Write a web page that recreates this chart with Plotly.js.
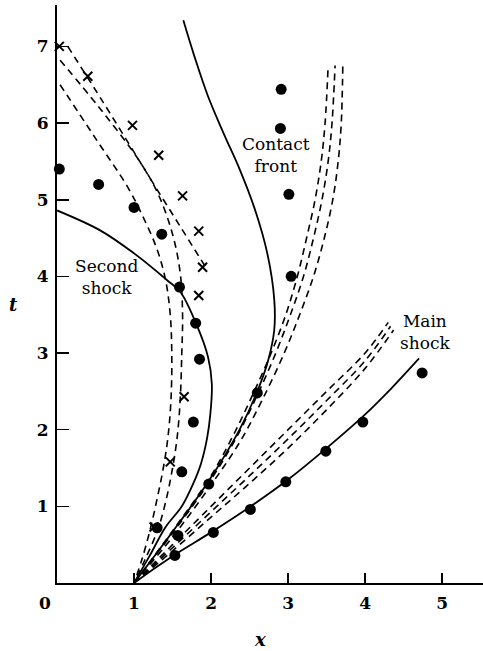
<!DOCTYPE html>
<html>
<head>
<meta charset="utf-8">
<script src="https://cdn.plot.ly/plotly-3.0.1.min.js"></script>
<style>html,body{margin:0;padding:0;background:#fff;}#chart{width:483px;height:651px;}</style>
</head>
<body>
<div id="chart"></div>
<script>
// ---- data ----
// Main shock: computed (solid), dashed variants, measured dots
const mainSolidX = [1, 1.25, 1.53, 2.03, 2.5, 3.0, 3.5, 4.0, 4.35, 4.7];
const mainSolidT = [0, 0.18, 0.37, 0.68, 0.99, 1.35, 1.76, 2.2, 2.55, 2.93];
const mainDashAX = [1, 1.5, 2, 2.5, 3, 3.5, 4, 4.3];
const mainDashAT = [0, 0.5, 1.0, 1.5, 2.0, 2.5, 3.0, 3.4];
const mainDashBX = [1, 1.5, 2, 2.5, 3, 3.5, 4, 4.33];
const mainDashBT = [0, 0.46, 0.93, 1.4, 1.88, 2.38, 2.9, 3.35];
const mainDashCX = [1, 1.5, 2, 2.5, 3, 3.5, 4, 4.37];
const mainDashCT = [0, 0.42, 0.86, 1.3, 1.76, 2.26, 2.8, 3.3];
const mainDotsX = [1.53, 2.03, 2.51, 2.97, 3.49, 3.97, 4.74];
const mainDotsT = [0.36, 0.66, 0.96, 1.32, 1.72, 2.10, 2.74];

// Contact front
const contactSolidX = [1, 1.45, 1.95, 2.37, 2.6, 2.74, 2.82, 2.82, 2.73, 2.56, 2.37, 2.17, 1.96, 1.79, 1.64];
const contactSolidT = [0, 0.6, 1.3, 2.0, 2.5, 2.9, 3.3, 3.7, 4.3, 4.9, 5.4, 5.85, 6.35, 6.85, 7.34];
const contactDash1X = [1, 1.5, 2, 2.3, 2.56, 2.78, 2.97, 3.12, 3.24, 3.35, 3.43, 3.48, 3.52];
const contactDash1T = [0, 0.68, 1.4, 1.95, 2.5, 3.0, 3.5, 4.0, 4.5, 5.0, 5.5, 6.0, 6.75];
const contactDash2X = [1, 1.5, 2, 2.33, 2.6, 2.84, 3.03, 3.2, 3.33, 3.44, 3.52, 3.57, 3.61];
const contactDash2T = [0, 0.65, 1.35, 1.9, 2.45, 3.0, 3.5, 4.0, 4.5, 5.0, 5.5, 6.0, 6.75];
const contactDash3X = [1, 1.5, 2, 2.38, 2.67, 2.95, 3.15, 3.33, 3.47, 3.58, 3.65, 3.69, 3.71];
const contactDash3T = [0, 0.6, 1.28, 1.85, 2.4, 3.0, 3.5, 4.0, 4.5, 5.0, 5.5, 6.0, 6.75];
const contactDotsX = [1.57, 1.97, 2.6, 3.04, 3.01, 2.9, 2.91];
const contactDotsT = [0.62, 1.29, 2.48, 4.0, 5.07, 5.93, 6.44];

// Second shock
const secondSolidX = [0, 0.56, 1.0, 1.43, 1.6, 1.82, 1.96, 2.01, 1.99, 1.95, 1.87, 1.77, 1.62, 1.41, 1.2, 1];
const secondSolidT = [4.86, 4.6, 4.3, 3.95, 3.8, 3.35, 2.95, 2.6, 2.2, 1.9, 1.56, 1.3, 1.0, 0.73, 0.35, 0];
const secondDash1X = [0.14, 0.6, 1.0, 1.27, 1.6, 1.93];
const secondDash1T = [7.0, 6.27, 5.62, 5.18, 4.65, 4.12];
const secondDash2X = [0.04, 0.55, 1.06, 1.31, 1.5, 1.6, 1.63, 1.62, 1.6, 1.56, 1.5, 1.42, 1.31, 1.14, 1];
const secondDash2T = [6.82, 6.2, 5.52, 5.08, 4.55, 4.04, 3.5, 3.0, 2.4, 1.9, 1.5, 1.1, 0.7, 0.3, 0];
const secondDash3X = [0.04, 0.5, 0.92, 1.12, 1.3, 1.41, 1.47, 1.49, 1.48, 1.44, 1.38, 1.3, 1.21, 1.1, 1];
const secondDash3T = [6.5, 5.8, 5.16, 4.77, 4.35, 3.95, 3.5, 3.0, 2.4, 1.9, 1.5, 1.1, 0.7, 0.3, 0];
const secondDotsX = [0.03, 0.54, 1.0, 1.36, 1.59, 1.8, 1.85, 1.77, 1.62, 1.3];
const secondDotsT = [5.4, 5.2, 4.9, 4.55, 3.86, 3.39, 2.92, 2.1, 1.45, 0.72];
const crossX = [0.03, 0.40, 0.98, 1.32, 1.63, 1.84, 1.89, 1.84, 1.65, 1.47, 1.26];
const crossT = [7.0, 6.61, 5.97, 5.58, 5.05, 4.59, 4.12, 3.75, 2.43, 1.58, 0.73];

const xTicks = [1, 2, 3, 4, 5];
const tTicks = [1, 2, 3, 4, 5, 6, 7];

// ---- drawing ----
const ink = '#000';
const solid = {color: ink, width: 1.8, shape: 'spline', smoothing: 1};
const dashed = {color: ink, width: 1.6, dash: '7px,5px', shape: 'spline', smoothing: 1};

function line(x, y, style) {
  return {x: x, y: y, type: 'scatter', mode: 'lines', line: style, hoverinfo: 'skip', showlegend: false};
}
function dots(x, y) {
  return {x: x, y: y, type: 'scatter', mode: 'markers', marker: {color: ink, size: 11, symbol: 'circle'}, showlegend: false, cliponaxis: false};
}

const traces = [
  line(mainSolidX, mainSolidT, solid),
  line(mainDashAX, mainDashAT, dashed),
  line(mainDashBX, mainDashBT, dashed),
  line(mainDashCX, mainDashCT, dashed),
  line(contactSolidX, contactSolidT, solid),
  line(contactDash1X, contactDash1T, dashed),
  line(contactDash2X, contactDash2T, dashed),
  line(contactDash3X, contactDash3T, dashed),
  line(secondSolidX, secondSolidT, solid),
  line(secondDash1X, secondDash1T, dashed),
  line(secondDash2X, secondDash2T, dashed),
  line(secondDash3X, secondDash3T, dashed),
  dots(mainDotsX, mainDotsT),
  dots(contactDotsX, contactDotsT),
  dots(secondDotsX, secondDotsT),
  {x: crossX, y: crossT, type: 'scatter', mode: 'markers', cliponaxis: false,
   marker: {symbol: 'x-thin-open', size: 9, color: ink, line: {color: ink, width: 2}}, showlegend: false}
];

const serif = 'DejaVu Serif, Liberation Serif, serif';
const labelFont = {family: serif, size: 17, color: ink};
const tickFont = {family: serif, size: 17, color: ink, weight: 'bold'};

const layout = {
  width: 483, height: 651,
  margin: {l: 57, r: 0, t: 5, b: 68},
  paper_bgcolor: '#fff', plot_bgcolor: '#fff',
  showlegend: false,
  xaxis: {
    range: [0, 5.53], showgrid: false, zeroline: false,
    showline: true, linecolor: ink, linewidth: 2,
    ticks: 'inside', ticklen: 10, tickwidth: 1.6, tickcolor: ink,
    tickvals: xTicks, ticktext: xTicks.map(String),
    tickfont: tickFont, ticklabelstandoff: 4
  },
  yaxis: {
    range: [0, 7.54], showgrid: false, zeroline: false,
    showline: true, linecolor: ink, linewidth: 2,
    ticks: 'inside', ticklen: 12, tickwidth: 1.6, tickcolor: ink,
    tickvals: tTicks, ticktext: tTicks.map(String),
    tickfont: tickFont, ticklabelstandoff: 3
  },
  annotations: [
    {text: 'Second<br>shock', x: 0.64, y: 3.99, xref: 'x', yref: 'y', showarrow: false, font: labelFont},
    {text: 'Contact<br>front', x: 2.84, y: 5.58, xref: 'x', yref: 'y', showarrow: false, font: labelFont},
    {text: 'Main<br>shock', x: 4.78, y: 3.27, xref: 'x', yref: 'y', showarrow: false, font: labelFont},
    {text: '<i>t</i>', x: -0.103, y: 0.481, xref: 'paper', yref: 'paper', xanchor: 'center', yanchor: 'middle', showarrow: false, font: {family: serif, size: 18, color: ink, weight: 'bold'}},
    {text: '<i>x</i>', x: 0.4765, y: -0.0986, xref: 'paper', yref: 'paper', xanchor: 'center', yanchor: 'middle', showarrow: false, font: {family: serif, size: 18, color: ink, weight: 'bold'}},
    {text: '0', x: -0.028, y: -0.0346, xref: 'paper', yref: 'paper', xanchor: 'center', yanchor: 'middle', showarrow: false, font: tickFont}
  ]
};

Plotly.newPlot('chart', traces, layout, {displayModeBar: false, staticPlot: true});
</script>
</body>
</html>
